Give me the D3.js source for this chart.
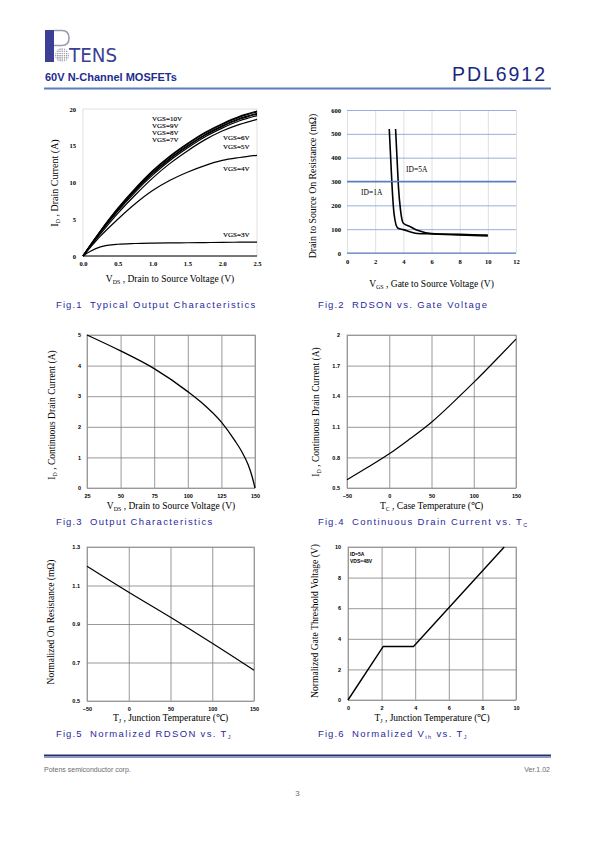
<!DOCTYPE html>
<html><head><meta charset="utf-8">
<script src="https://cdn.jsdelivr.net/npm/d3@7"></script>
<style>body{margin:0;background:#fff}svg{display:block}</style>
</head><body><svg id="page" width="595" height="842"></svg>
<script>
// ---------- DATA ----------
const fig1Vds = [0, 0.1, 0.25, 0.5, 0.75, 1.0, 1.25, 1.5, 1.75, 2.0, 2.25, 2.5];
const fig1Vgs10 = [0, 1.4, 3.4, 6.5, 9.2, 11.6, 13.6, 15.3, 16.8, 18.0, 19.0, 19.7];
const fig1Vgs9  = [0, 1.4, 3.4, 6.4, 9.1, 11.5, 13.5, 15.2, 16.7, 17.9, 18.9, 19.6];
const fig1Vgs8  = [0, 1.35, 3.35, 6.3, 9.0, 11.3, 13.3, 15.0, 16.5, 17.7, 18.7, 19.4];
const fig1Vgs7  = [0, 1.3, 3.3, 6.2, 8.9, 11.2, 13.2, 14.9, 16.4, 17.6, 18.6, 19.3];
const fig1Vgs6  = [0, 1.3, 3.2, 6.1, 8.7, 11.0, 13.0, 14.7, 16.2, 17.4, 18.4, 19.1];
const fig1Vgs5  = [0, 1.25, 3.0, 5.8, 8.3, 10.6, 12.6, 14.3, 15.8, 17.0, 17.9, 18.6];
const fig1Vgs4  = [0, 1.1, 2.7, 5.0, 7.1, 8.9, 10.3, 11.4, 12.3, 13.0, 13.4, 13.7];
const fig1Vgs3  = [0, 0.6, 1.25, 1.6, 1.7, 1.75, 1.78, 1.8, 1.83, 1.86, 1.88, 1.9];
const fig1XTicks = [0, 0.5, 1.0, 1.5, 2.0, 2.5];
const fig1YTicks = [0, 5, 10, 15, 20];

const fig2Vgs1A = [3.0, 3.1, 3.2, 3.35, 3.6, 4.0, 5.0, 6.0, 8.0, 10.0];
const fig2Ron1A = [520, 400, 280, 160, 105, 98, 82, 80, 76, 72];
const fig2Vgs5A = [3.45, 3.55, 3.65, 3.8, 4.0, 4.5, 5.0, 6.0, 8.0, 10.0];
const fig2Ron5A = [520, 400, 280, 180, 125, 110, 95, 82, 78, 75];
const fig2XTicks = [0, 2, 4, 6, 8, 10, 12];
const fig2YTicks = [0, 100, 200, 300, 400, 500, 600];

const fig3Vds = [25, 50, 75, 100, 110, 125, 135, 140, 145, 148, 150];
const fig3Id  = [5.0, 4.48, 3.9, 3.15, 2.8, 2.15, 1.55, 1.2, 0.75, 0.35, 0];
const fig3XTicks = [25, 50, 75, 100, 125, 150];
const fig3YTicks = [0, 1, 2, 3, 4, 5];

const fig4Tc = [-50, -25, 0, 25, 50, 75, 100, 125, 150];
const fig4Id = [0.58, 0.705, 0.835, 0.985, 1.145, 1.335, 1.535, 1.745, 1.96];
const fig4XTicks = [-50, 0, 50, 100, 150];
const fig4YTicks = [0.5, 0.8, 1.1, 1.4, 1.7, 2.0];

const fig5Tj = [-50, 0, 50, 100, 150];
const fig5Ron = [1.2, 1.065, 0.935, 0.8, 0.66];
const fig5XTicks = [-50, 0, 50, 100, 150];
const fig5YTicks = [0.5, 0.7, 0.9, 1.1, 1.3];

const fig6Tj = [0, 2.1, 3.9, 9.3];
const fig6Vth = [0, 3.5, 3.5, 10];
const fig6XTicks = [0, 2, 4, 6, 8, 10];
const fig6YTicks = [0, 2, 4, 6, 8, 10];

// ---------- DRAW ----------
const svg = d3.select("#page");
const SERIF = "'Liberation Serif','Times New Roman',serif";
const SANS = "'Liberation Sans',Arial,sans-serif";
const CAP = "#2a2a9c";

function zip(xs, ys){ return xs.map((x,i)=>[x, ys[i]]); }

function makeChart(o){
  const g = svg.append("g");
  const x = d3.scaleLinear().domain(o.xDomain).range([o.left, o.right]);
  const y = d3.scaleLinear().domain(o.yDomain).range([o.bottom, o.top]);
  const w = o.right - o.left, h = o.bottom - o.top;
  if (o.vGrid) {
    const ga = g.append("g").attr("transform", `translate(0,${o.bottom})`)
      .call(d3.axisBottom(x).tickValues(o.xTicks).tickSize(-h).tickFormat(""));
    ga.select(".domain").remove();
    ga.selectAll("line").attr("stroke", o.vGrid).attr("stroke-width", o.gridW || 0.8);
  }
  if (o.hGrid) {
    const ga = g.append("g").attr("transform", `translate(${o.left},0)`)
      .call(d3.axisLeft(y).tickValues(o.yTicks).tickSize(-w).tickFormat(""));
    ga.select(".domain").remove();
    ga.selectAll("line").attr("stroke", o.hGrid).attr("stroke-width", o.gridW || 0.8);
  }
  if (o.frame) {
    g.append("rect").attr("x", o.left).attr("y", o.top).attr("width", w).attr("height", h)
      .attr("fill", "none").attr("stroke", o.frame).attr("stroke-width", o.frameW || 0.8);
  }
  if (o.bottomLine) {
    g.append("line").attr("x1", o.left).attr("x2", o.right).attr("y1", o.bottom).attr("y2", o.bottom)
      .attr("stroke", o.bottomLine).attr("stroke-width", 1);
  }
  const ax = g.append("g").attr("transform", `translate(0,${o.bottom})`)
    .call(d3.axisBottom(x).tickValues(o.xTicks).tickSize(0).tickPadding(o.xPad).tickFormat(o.xFmt));
  ax.select(".domain").remove();
  ax.selectAll("text").attr("font-family", o.tickFont).attr("font-size", o.tickSize)
    .attr("font-weight", "bold").attr("fill", "#000");
  const ay = g.append("g").attr("transform", `translate(${o.left},0)`)
    .call(d3.axisLeft(y).tickValues(o.yTicks).tickSize(0).tickPadding(o.yPad).tickFormat(o.yFmt));
  ay.select(".domain").remove();
  ay.selectAll("text").attr("font-family", o.tickFont).attr("font-size", o.tickSize)
    .attr("font-weight", "bold").attr("fill", "#000");
  const line = d3.line().x(d=>x(d[0])).y(d=>y(d[1])).curve(o.curve || d3.curveMonotoneX);
  o.series.forEach(s=>{
    g.append("path").datum(s).attr("d", line).attr("fill", "none")
      .attr("stroke", "#000").attr("stroke-width", o.lineW || 1.2).attr("stroke-linejoin", "round");
  });
  const xt = g.append("text").attr("x", (o.left + o.right)/2 + (o.xTitleDx||0)).attr("y", o.xTitleY)
    .attr("text-anchor", "middle").attr("font-family", SERIF).attr("font-size", o.xTitleSize || 9.5);
  o.xTitle.forEach(p=> xt.append("tspan").text(p[0]).attr("font-size", p[1] ? 6 : null)
    .attr("dy", p[1] ? 1.5 : (p[2] ? -1.5 : null)));
  const yt = g.append("text").attr("transform", `translate(${o.yTitleX},${o.yTitleCy}) rotate(-90)`)
    .attr("text-anchor", "middle").attr("font-family", SERIF).attr("font-size", o.yTitleSize || 9.5);
  o.yTitle.forEach(p=> yt.append("tspan").text(p[0]).attr("font-size", p[1] ? 6 : null)
    .attr("dy", p[1] ? 1.5 : (p[2] ? -1.5 : null)));
  return {g, x, y};
}

// Fig 1
const f1 = makeChart({
  left: 83, right: 257, top: 109, bottom: 256,
  xDomain: [0, 2.5], yDomain: [0, 20], xTicks: fig1XTicks, yTicks: fig1YTicks,
  xFmt: d3.format(".1f"), yFmt: d3.format("d"),
  frame: "#d8d8d8", bottomLine: "#000",
  tickFont: SERIF, tickSize: 6.5, xPad: 5, yPad: 7,
  series: [fig1Vgs10, fig1Vgs9, fig1Vgs8, fig1Vgs7, fig1Vgs6, fig1Vgs5, fig1Vgs4, fig1Vgs3].map(v=>zip(fig1Vds, v)),
  lineW: 1.2,
  xTitle: [["V"], ["DS", true], [" , Drain to Source Voltage (V)", false, true]], xTitleY: 282,
  yTitle: [["I"], ["D", true], [" , Drain Current (A)", false, true]], yTitleX: 58, yTitleCy: 183, yTitleSize: 10
});
const f1Labels = [["VGS=10V",152,121],["VGS=9V",152,128],["VGS=8V",152,135],["VGS=7V",152,142],
  ["VGS=6V",223,140],["VGS=5V",223,148.5],["VGS=4V",223,171],["VGS=3V",223,236.5]];
f1Labels.forEach(l=> f1.g.append("text").attr("x", l[1]).attr("y", l[2]).text(l[0])
  .attr("font-family", SERIF).attr("font-size", 7).attr("fill","#000")
  .attr("stroke", "#000").attr("stroke-width", 0.15));

// Fig 2
const f2 = makeChart({
  left: 347, right: 516, top: 110, bottom: 253,
  xDomain: [0, 12], yDomain: [0, 600], xTicks: fig2XTicks, yTicks: fig2YTicks,
  xFmt: d3.format("d"), yFmt: d3.format("d"),
  vGrid: "#dcdcdc", hGrid: "#8ca6d6", gridW: 0.9,
  tickFont: SERIF, tickSize: 6.5, xPad: 6, yPad: 6,
  series: [zip(fig2Vgs1A, fig2Ron1A), zip(fig2Vgs5A, fig2Ron5A)],
  curve: d3.curveMonotoneX, lineW: 1.6,
  xTitle: [["V"], ["GS", true], [" , Gate to Source Voltage (V)", false, true]], xTitleY: 287,
  yTitle: [["Drain to Source On Resistance (mΩ)"]], yTitleX: 316, yTitleCy: 186, yTitleSize: 9.8
});
f2.g.append("line").attr("x1", f2.x(0)).attr("x2", f2.x(12)).attr("y1", f2.y(300)).attr("y2", f2.y(300))
  .attr("stroke", "#5a7dbd").attr("stroke-width", 1.4);
f2.g.append("line").attr("x1", f2.x(0)).attr("x2", f2.x(12)).attr("y1", f2.y(0)).attr("y2", f2.y(0))
  .attr("stroke", "#5a7dbd").attr("stroke-width", 1);
f2.g.append("text").attr("x", 406).attr("y", 172).text("ID=5A").attr("font-family", SERIF).attr("font-size", 7.5);
f2.g.append("text").attr("x", 361).attr("y", 195).text("ID=1A").attr("font-family", SERIF).attr("font-size", 7.5);

// Fig 3
makeChart({
  left: 87, right: 255, top: 335, bottom: 488,
  xDomain: [25, 150], yDomain: [0, 5], xTicks: fig3XTicks, yTicks: fig3YTicks,
  xFmt: d3.format("d"), yFmt: d3.format("d"),
  vGrid: "#7f7f7f", hGrid: "#7f7f7f", frame: "#9a9a9a", gridW: 0.8,
  tickFont: SANS, tickSize: 5.5, xPad: 6, yPad: 6,
  series: [zip(fig3Vds, fig3Id)], lineW: 1.3,
  xTitle: [["V"], ["DS", true], [" , Drain to Source Voltage (V)", false, true]], xTitleY: 509,
  yTitle: [["I"], ["D", true], [" , Continuous Drain Current (A)", false, true]], yTitleX: 55, yTitleCy: 415
});

// Fig 4
makeChart({
  left: 347, right: 516, top: 335, bottom: 488,
  xDomain: [-50, 150], yDomain: [0.5, 2.0], xTicks: fig4XTicks, yTicks: fig4YTicks,
  xFmt: d3.format("d"), yFmt: d=> d===2 ? "2" : d3.format(".1f")(d),
  vGrid: "#7f7f7f", hGrid: "#7f7f7f", frame: "#9a9a9a", gridW: 0.8,
  tickFont: SANS, tickSize: 5.5, xPad: 6, yPad: 7,
  series: [zip(fig4Tc, fig4Id)], curve: d3.curveNatural, lineW: 1.2,
  xTitle: [["T"], ["C", true], [" , Case Temperature (℃)", false, true]], xTitleY: 509,
  yTitle: [["I"], ["D", true], [" , Continuous Drain Current (A)", false, true]], yTitleX: 319, yTitleCy: 412
});

// Fig 5
makeChart({
  left: 87, right: 254, top: 547, bottom: 701,
  xDomain: [-50, 150], yDomain: [0.5, 1.3], xTicks: fig5XTicks, yTicks: fig5YTicks,
  xFmt: d3.format("d"), yFmt: d3.format(".1f"),
  vGrid: "#7f7f7f", hGrid: "#7f7f7f", frame: "#9a9a9a", gridW: 0.8,
  tickFont: SANS, tickSize: 5.5, xPad: 6, yPad: 7,
  series: [zip(fig5Tj, fig5Ron)], lineW: 1.2,
  xTitle: [["T"], ["J", true], [" , Junction Temperature (℃)", false, true]], xTitleY: 721,
  yTitle: [["Normalized On Resistance (mΩ)"]], yTitleX: 54, yTitleCy: 622
});

// Fig 6
const f6 = makeChart({
  left: 348, right: 516, top: 547, bottom: 700,
  xDomain: [0, 10], yDomain: [0, 10], xTicks: fig6XTicks, yTicks: fig6YTicks,
  xFmt: d3.format("d"), yFmt: d3.format("d"),
  vGrid: "#7f7f7f", hGrid: "#7f7f7f", frame: "#9a9a9a", gridW: 0.8,
  tickFont: SANS, tickSize: 5.5, xPad: 6, yPad: 7,
  series: [zip(fig6Tj, fig6Vth)], curve: d3.curveLinear, lineW: 1.4,
  xTitle: [["T"], ["J", true], [" , Junction Temperature (℃)", false, true]], xTitleY: 721,
  yTitle: [["Normalized Gate Threshold Voltage (V)"]], yTitleX: 318, yTitleCy: 621, yTitleSize: 9.6
});
f6.g.append("text").attr("x", 350).attr("y", 556).text("ID=5A").attr("font-family", SANS)
  .attr("font-size", 5).attr("font-weight", "bold");
f6.g.append("text").attr("x", 350).attr("y", 563).text("VDS=48V").attr("font-family", SANS)
  .attr("font-size", 5).attr("font-weight", "bold");

// Captions
function caption(x, y, num, parts){
  svg.append("text").attr("x", x).attr("y", y).text(num).attr("font-family", SANS)
    .attr("font-size", 9.5).attr("fill", CAP).attr("letter-spacing", 1.1);
  const t = svg.append("text").attr("x", x + 34).attr("y", y).attr("font-family", SANS)
    .attr("font-size", 9.5).attr("fill", CAP).attr("letter-spacing", 1.35);
  parts.forEach(p=> t.append("tspan").text(p[0]).attr("font-size", p[1] ? 5.5 : null)
    .attr("dy", p[1] ? 2 : (p[2] ? -2 : null)));
}
caption(56, 307.5, "Fig.1", [["Typical Output Characteristics"]]);
caption(318, 307.5, "Fig.2", [["RDSON vs. Gate Voltage"]]);
caption(56, 524.5, "Fig.3", [["Output Characteristics"]]);
caption(318, 524.5, "Fig.4", [["Continuous Drain Current vs. T"], ["C", true]]);
caption(56, 736.5, "Fig.5", [["Normalized RDSON vs. T"], ["J", true]]);
caption(318, 736.5, "Fig.6", [["Normalized V"], ["th", true], [" vs. T", false, true], ["J", true]]);

// Header
const logo = svg.append("g");
logo.append("rect").attr("x", 45).attr("y", 30).attr("width", 9).attr("height", 32).attr("fill", "#3b3f96");
logo.append("path").attr("d", "M54,30.5 L62,30.5 Q69,30.5 69,38 Q69,45.5 62,45.5 L54,45.5")
  .attr("fill", "none").attr("stroke", "#9a9ab5").attr("stroke-width", 1.6);
const defs = svg.append("defs");
const pat = defs.append("pattern").attr("id", "globe").attr("width", 2.2).attr("height", 2.2)
  .attr("patternUnits", "userSpaceOnUse");
pat.append("rect").attr("width", 2.2).attr("height", 2.2).attr("fill", "#fff");
pat.append("rect").attr("width", 1.3).attr("height", 1.3).attr("fill", "#8e8e9e");
logo.append("circle").attr("cx", 62).attr("cy", 55).attr("r", 7).attr("fill", "url(#globe)");
logo.append("text").attr("x", 69).attr("y", 62).text("TENS").attr("font-family", "'DejaVu Sans Condensed','Liberation Sans Narrow',sans-serif")
  .attr("font-size", 19).attr("fill", "#3b3f96")
  .attr("textLength", 48).attr("lengthAdjust", "spacingAndGlyphs");
svg.append("text").attr("x", 45).attr("y", 81).text("60V N-Channel MOSFETs").attr("font-family", SANS)
  .attr("font-size", 11).attr("font-weight", "bold").attr("fill", "#1d2d8f");
svg.append("text").attr("x", 452).attr("y", 81).text("PDL6912").attr("font-family", SANS)
  .attr("font-size", 19.5).attr("fill", "#1a2780").attr("textLength", 93).attr("lengthAdjust", "spacing");
svg.append("line").attr("x1", 44).attr("x2", 551).attr("y1", 88.5).attr("y2", 88.5)
  .attr("stroke", "#5d7cbd").attr("stroke-width", 2);

// Footer
svg.append("line").attr("x1", 44).attr("x2", 551).attr("y1", 755.5).attr("y2", 755.5)
  .attr("stroke", "#27306e").attr("stroke-width", 2);
svg.append("line").attr("x1", 44).attr("x2", 551).attr("y1", 757.5).attr("y2", 757.5)
  .attr("stroke", "#8d98c7").attr("stroke-width", 1);
svg.append("text").attr("x", 44).attr("y", 772).text("Potens semiconductor corp.").attr("font-family", SANS)
  .attr("font-size", 7).attr("fill", "#6b6b6b");
svg.append("text").attr("x", 550).attr("y", 772).attr("text-anchor", "end").text("Ver.1.02").attr("font-family", SANS)
  .attr("font-size", 7).attr("fill", "#6b6b6b");
svg.append("text").attr("x", 297.5).attr("y", 796).attr("text-anchor", "middle").text("3").attr("font-family", SANS)
  .attr("font-size", 8).attr("fill", "#6b6b6b");
</script></body></html>
